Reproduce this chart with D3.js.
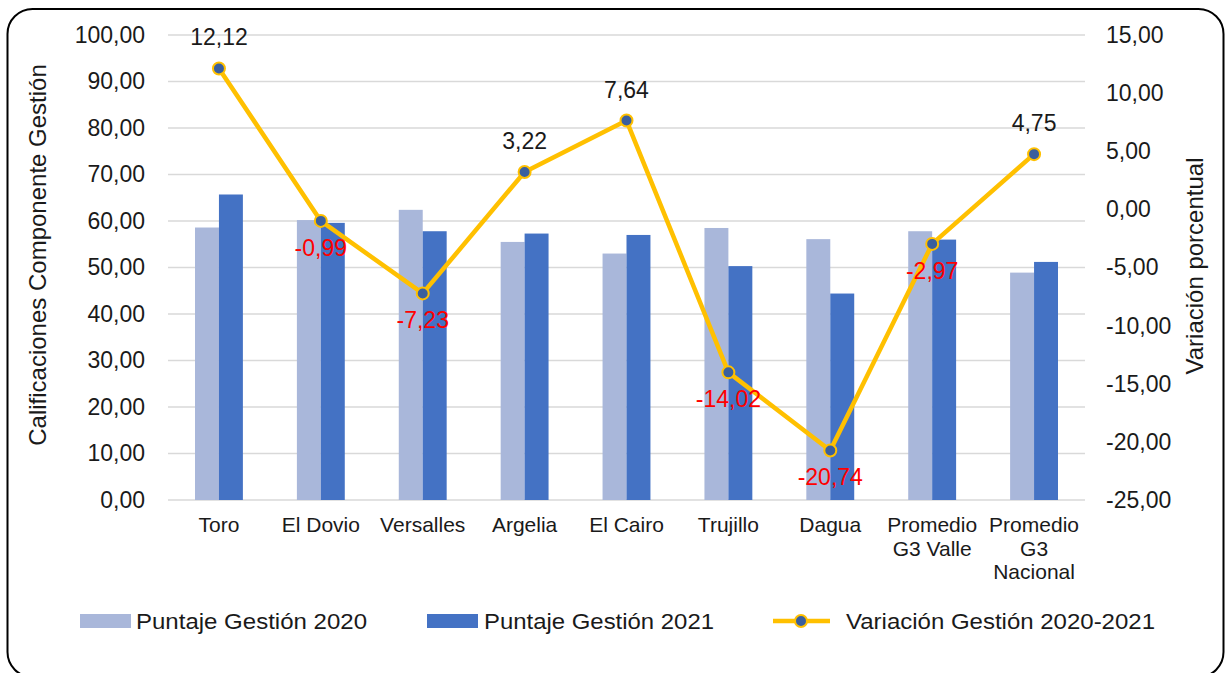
<!DOCTYPE html>
<html>
<head>
<meta charset="utf-8">
<script src="https://cdn.jsdelivr.net/npm/d3@7"></script>
<style>
  body { margin: 0; background: #fff; }
  svg { font-family: "Liberation Sans", Arial, sans-serif; }
</style>
</head>
<body>
<svg id="chart" width="1225" height="673"></svg>
<script>
// data
const categories = ['Toro', 'El Dovio', 'Versalles', 'Argelia', 'El Cairo', 'Trujillo', 'Dagua', 'Promedio G3 Valle', 'Promedio G3 Nacional'];
const catLines = [['Toro'], ['El Dovio'], ['Versalles'], ['Argelia'], ['El Cairo'], ['Trujillo'], ['Dagua'], ['Promedio', 'G3 Valle'], ['Promedio', 'G3', 'Nacional']];
const puntaje2020 = [58.6, 60.2, 62.4, 55.5, 53.0, 58.5, 56.1, 57.8, 48.9];
const puntaje2021 = [65.7, 59.6, 57.8, 57.3, 57.0, 50.3, 44.4, 56.0, 51.2];
const variacion = [12.12, -0.99, -7.23, 3.22, 7.64, -14.02, -20.74, -2.97, 4.75];
const leftTicks = [0, 10, 20, 30, 40, 50, 60, 70, 80, 90, 100];
const rightTicks = [-25, -20, -15, -10, -5, 0, 5, 10, 15];

const fmt = v => v.toFixed(2).replace('.', ',');
const ink = '#1a1a1a';
const svg = d3.select('#chart');

// rounded frame
svg.append('rect').attr('x', 7.5).attr('y', 9).attr('width', 1216).attr('height', 668)
  .attr('rx', 25).attr('fill', 'none').attr('stroke', '#000').attr('stroke-width', 2);

const plot = { left: 168, right: 1085, top: 35, bottom: 500 };

const x = d3.scaleBand().domain(categories).range([plot.left, plot.right]).paddingInner(0.53).paddingOuter(0.265);
const xSub = d3.scaleBand().domain(['a', 'b']).range([0, x.bandwidth()]);
const yL = d3.scaleLinear().domain([0, 100]).range([plot.bottom, plot.top]);
const yR = d3.scaleLinear().domain([-25, 15]).range([plot.bottom, plot.top]);

// gridlines
svg.append('g').selectAll('line').data(leftTicks).join('line')
  .attr('x1', plot.left).attr('x2', plot.right)
  .attr('y1', d => yL(d)).attr('y2', d => yL(d))
  .attr('stroke', '#d9d9d9').attr('stroke-width', 1.5);

// left axis
const gl = svg.append('g').attr('transform', `translate(${plot.left - 23},0)`)
  .call(d3.axisLeft(yL).tickValues(leftTicks).tickSize(0).tickPadding(0).tickFormat(fmt));
gl.select('.domain').remove();
gl.selectAll('text').attr('font-size', 23).attr('fill', ink).attr('font-family', '"Liberation Sans", Arial, sans-serif');

// right axis
const gr = svg.append('g').attr('transform', `translate(${plot.right + 21},0)`)
  .call(d3.axisRight(yR).tickValues(rightTicks).tickSize(0).tickPadding(0).tickFormat(fmt));
gr.select('.domain').remove();
gr.selectAll('text').attr('font-size', 23).attr('fill', ink).attr('font-family', '"Liberation Sans", Arial, sans-serif');

// axis titles
svg.append('text').attr('transform', 'translate(46,255) rotate(-90)')
  .attr('text-anchor', 'middle').attr('font-size', 24).attr('fill', ink)
  .text('Calificaciones Componente Gestión');
svg.append('text').attr('transform', 'translate(1203,266) rotate(-90)')
  .attr('text-anchor', 'middle').attr('font-size', 24).attr('fill', ink)
  .text('Variación porcentual');

// bars
const groups = svg.append('g').selectAll('g').data(categories).join('g')
  .attr('transform', d => `translate(${x(d)},0)`);
groups.append('rect')
  .attr('x', xSub('a')).attr('width', xSub.bandwidth())
  .attr('y', (d, i) => yL(puntaje2020[i])).attr('height', (d, i) => yL(0) - yL(puntaje2020[i]))
  .attr('fill', '#a9b7da');
groups.append('rect')
  .attr('x', xSub('b')).attr('width', xSub.bandwidth())
  .attr('y', (d, i) => yL(puntaje2021[i])).attr('height', (d, i) => yL(0) - yL(puntaje2021[i]))
  .attr('fill', '#4472c4');

// category labels
const xl = svg.append('g').selectAll('text').data(categories).join('text')
  .attr('x', d => x(d) + x.bandwidth() / 2).attr('y', 532)
  .attr('text-anchor', 'middle').attr('font-size', 21).attr('fill', ink);
xl.selectAll('tspan').data((d, i) => catLines[i]).join('tspan')
  .attr('x', function () { return this.parentNode.getAttribute('x'); })
  .attr('dy', (d, i) => i === 0 ? 0 : 23.5)
  .text(d => d);

// variation line
const cx = (d, i) => x(categories[i]) + x.bandwidth() / 2;
const line = d3.line().x((d, i) => cx(d, i)).y(d => yR(d));
svg.append('path').datum(variacion).attr('d', line)
  .attr('fill', 'none').attr('stroke', '#ffc000').attr('stroke-width', 4.5).attr('stroke-linejoin', 'round');
svg.append('g').selectAll('circle').data(variacion).join('circle')
  .attr('cx', cx).attr('cy', d => yR(d)).attr('r', 6)
  .attr('fill', '#3a5f9e').attr('stroke', '#ffc000').attr('stroke-width', 2);

// data labels
svg.append('g').selectAll('text').data(variacion).join('text')
  .attr('x', cx).attr('y', d => yR(d) + (d >= 0 ? -23 : 35))
  .attr('text-anchor', 'middle').attr('font-size', 23)
  .attr('fill', d => d >= 0 ? ink : '#ff0000')
  .text(fmt);

// legend
const leg = svg.append('g').attr('font-size', 22).attr('fill', ink);
leg.append('rect').attr('x', 80).attr('y', 614).attr('width', 51).attr('height', 14).attr('fill', '#a9b7da');
leg.append('text').attr('x', 136).attr('y', 629).attr('textLength', 231).attr('lengthAdjust', 'spacingAndGlyphs')
  .text('Puntaje Gestión 2020');
leg.append('rect').attr('x', 427).attr('y', 614).attr('width', 51).attr('height', 14).attr('fill', '#4472c4');
leg.append('text').attr('x', 484).attr('y', 629).attr('textLength', 230).attr('lengthAdjust', 'spacingAndGlyphs')
  .text('Puntaje Gestión 2021');
leg.append('line').attr('x1', 773).attr('x2', 830).attr('y1', 621).attr('y2', 621)
  .attr('stroke', '#ffc000').attr('stroke-width', 4.5);
leg.append('circle').attr('cx', 801).attr('cy', 621).attr('r', 6)
  .attr('fill', '#3a5f9e').attr('stroke', '#ffc000').attr('stroke-width', 2);
leg.append('text').attr('x', 846).attr('y', 629).attr('textLength', 309).attr('lengthAdjust', 'spacingAndGlyphs')
  .text('Variación Gestión 2020-2021');
</script>
</body>
</html>
